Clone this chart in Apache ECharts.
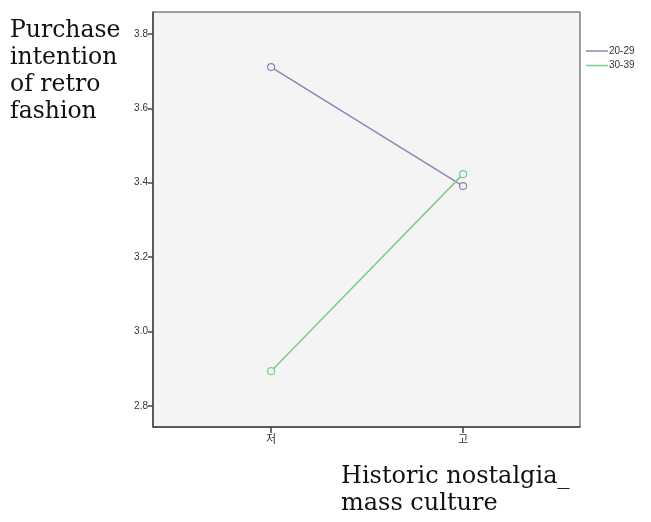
<!DOCTYPE html>
<html>
<head>
<meta charset="utf-8">
<script src="https://cdn.jsdelivr.net/npm/echarts@6/dist/echarts.min.js"></script>
<style>
  html, body { margin: 0; padding: 0; background: #fff; }
  #chart-container { width: 651px; height: 522px; }
</style>
</head>
<body>
<div id="chart-container"></div>
<script>
var categories = ['저', '고'];
var seriesNames = ['20-29', '30-39'];
var values2029 = [3.711, 3.391];
var values3039 = [2.893, 3.423];
var yTicks = [2.8, 3.0, 3.2, 3.4, 3.6, 3.8];

var lineColors = ['#8a86b8', '#7ccf86'];

var dom = document.getElementById('chart-container');
var myChart = echarts.init(dom, null, { renderer: 'canvas' });

function toPoints(vals) {
  return vals.map(function (v, i) { return [i, v]; });
}

var option = {
  animation: false,
  backgroundColor: '#fff',
  title: [
    {
      text: 'Purchase\nintention\nof retro\nfashion',
      left: 5,
      top: 12,
      textStyle: {
        fontFamily: 'DejaVu Serif',
        fontWeight: 'normal',
        fontSize: 23.5,
        lineHeight: 27,
        color: '#111'
      }
    },
    {
      text: 'Historic nostalgia_\nmass culture',
      left: 336,
      top: 458,
      textStyle: {
        fontFamily: 'DejaVu Serif',
        fontWeight: 'normal',
        fontSize: 24,
        lineHeight: 27,
        color: '#111'
      }
    }
  ],
  legend: {
    orient: 'vertical',
    left: 581,
    top: 41,
    itemWidth: 22,
    itemHeight: 1.5,
    itemGap: 4.5,
    icon: 'rect',
    textStyle: { fontFamily: 'Liberation Sans', fontSize: 10, color: '#333', padding: [0, 0, 0, -4] },
    data: seriesNames.map(function (n, i) {
      return { name: n, itemStyle: { color: lineColors[i], borderWidth: 0 } };
    })
  },
  grid: {
    left: 153,
    top: 12,
    right: 71,
    bottom: 95,
    show: true,
    backgroundColor: '#f4f4f4',
    borderColor: '#444',
    borderWidth: 1
  },
  xAxis: {
    type: 'value',
    min: -0.615,
    max: 1.609,
    splitLine: { show: false },
    axisLine: { show: true, onZero: false, lineStyle: { color: '#444', width: 1.5 } },
    axisTick: { show: true, length: 6, customValues: [0, 1], lineStyle: { color: '#444', width: 1.5 } },
    axisLabel: {
      customValues: [0, 1],
      formatter: function (v) { return categories[Math.round(v)]; },
      fontFamily: 'Noto Sans CJK KR',
      fontSize: 11,
      color: '#333',
      margin: 6
    }
  },
  yAxis: {
    type: 'value',
    min: 2.743,
    max: 3.859,
    splitLine: { show: false },
    axisLine: { show: true, onZero: false, lineStyle: { color: '#444', width: 1.5 } },
    axisTick: { show: true, length: 5, customValues: yTicks, lineStyle: { color: '#444', width: 1.5 } },
    axisLabel: {
      customValues: yTicks,
      formatter: function (v) { return v.toFixed(1); },
      fontFamily: 'Liberation Sans',
      fontSize: 10,
      color: '#333',
      margin: 5
    }
  },
  series: [
    {
      name: seriesNames[0],
      type: 'line',
      data: toPoints(values2029),
      symbol: 'circle',
      symbolSize: 7,
      lineStyle: { color: lineColors[0], width: 1.5 },
      itemStyle: { color: '#f4f4f4', borderColor: lineColors[0], borderWidth: 1.2 }
    },
    {
      name: seriesNames[1],
      type: 'line',
      data: toPoints(values3039),
      symbol: 'circle',
      symbolSize: 7,
      lineStyle: { color: lineColors[1], width: 1.5 },
      itemStyle: { color: '#f4f4f4', borderColor: lineColors[1], borderWidth: 1.2 }
    }
  ]
};

myChart.setOption(option);
window.addEventListener('resize', myChart.resize);
</script>
</body>
</html>
